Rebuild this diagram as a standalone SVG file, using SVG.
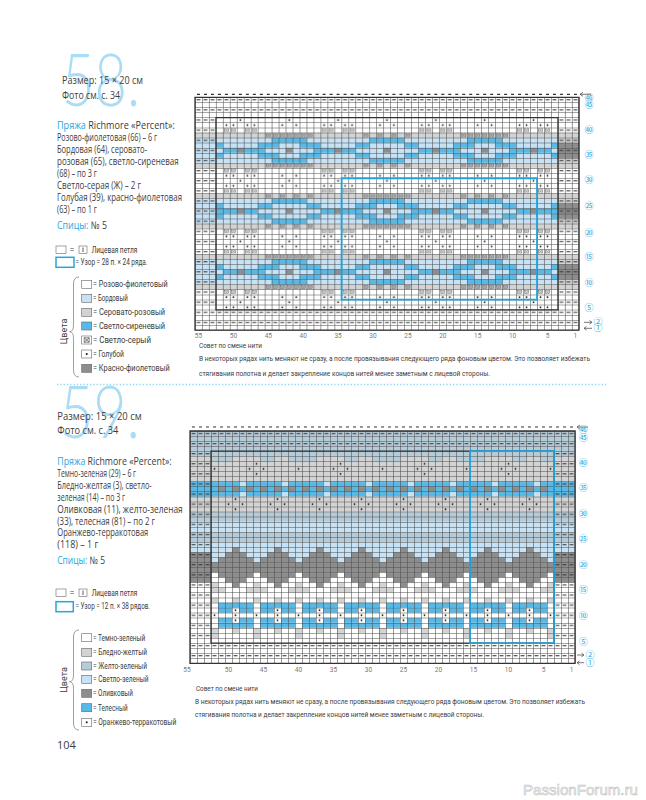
<svg xmlns="http://www.w3.org/2000/svg" width="646" height="800" viewBox="0 0 646 800">
<style>
.tx{font-family:"Open Sans","Liberation Sans",sans-serif;fill:#3c3c3c}
.bl{fill:#27a6de}
.big{font-family:"Lato","Open Sans","Liberation Sans",sans-serif;font-weight:300;font-size:72px;fill:#aadcf5}
.lt{font-family:"Roboto","Liberation Sans",sans-serif;font-size:9px;fill:#3c3c3c}
.cn{font-family:"Roboto","Liberation Sans",sans-serif;font-size:6.5px;fill:#777;text-anchor:middle}
.rn{font-family:"Noto Sans CJK JP","DejaVu Sans",sans-serif;font-size:9px;fill:#29a8e0;text-anchor:middle}
.tip{font-family:"Roboto","Liberation Sans",sans-serif;font-size:7px;fill:#3c3c3c}
.box{stroke:#666;stroke-width:0.6}
.pb{fill:#c6e2f4}.mb{fill:#58b9e7}.cg{fill:#d3d3d3}.dg{fill:#8d8d8d}.bgc{fill:#b5cbd8}.wh{fill:#fff}
.gl{stroke:#4f4f4f;fill:none}
.bd{fill:none;stroke:#333;stroke-width:1.3}
.ar{fill:none;stroke:#555;stroke-width:0.8}
</style>
<defs>
<g id="xm"><rect x=".24" y=".2" width=".52" height=".6" fill="none" stroke="#444" stroke-width=".07"/><path d="M.24 .2L.76 .8M.76 .2L.24 .8" stroke="#444" stroke-width=".07"/></g>
<rect id="dt" x=".39" y=".33" width=".22" height=".34" fill="#222"/>
<pattern id="dsh" patternUnits="userSpaceOnUse" width="1" height="2"><rect x=".22" y=".4" width=".56" height=".2" fill="#333"/></pattern>
<g id="hA">
 <rect y="0" width="28" height="1" class="cg"/>
 <rect y="6" width="28" height="1" class="cg"/>
 <rect y="1" width="28" height="5" class="pb"/>
 <g class="mb">
  <rect x="11" y="1" width="5" height="1"/><rect x="25" y="1" width="3" height="1"/><rect x="0" y="1" width="2" height="1"/>
  <rect x="9" y="2" width="3" height="1"/><rect x="15" y="2" width="3" height="1"/><rect x="23" y="2" width="2" height="1"/><rect x="2" y="2" width="2" height="1"/>
  <rect x="4" y="3" width="2" height="1"/><rect x="7" y="3" width="3" height="1"/><rect x="17" y="3" width="3" height="1"/><rect x="21" y="3" width="2" height="1"/>
  <rect x="9" y="4" width="3" height="1"/><rect x="15" y="4" width="3" height="1"/><rect x="23" y="4" width="2" height="1"/><rect x="2" y="4" width="2" height="1"/>
  <rect x="11" y="5" width="5" height="1"/><rect x="25" y="5" width="3" height="1"/><rect x="0" y="5" width="2" height="1"/>
 </g>
 <g class="dg"><rect x="6" y="3" width="1" height="1"/><rect x="13" y="3" width="1" height="1"/><rect x="20" y="3" width="1" height="1"/><rect x="27" y="3" width="1" height="1"/></g>
 <use href="#xm" x="0" y="0"/><use href="#xm" x="2" y="0"/><use href="#xm" x="10" y="0"/><use href="#xm" x="11" y="0"/><use href="#xm" x="12" y="0"/><use href="#xm" x="13" y="0"/><use href="#xm" x="14" y="0"/><use href="#xm" x="15" y="0"/><use href="#xm" x="16" y="0"/><use href="#xm" x="24" y="0"/><use href="#xm" x="26" y="0"/>
 <use href="#xm" x="0" y="6"/><use href="#xm" x="2" y="6"/><use href="#xm" x="10" y="6"/><use href="#xm" x="11" y="6"/><use href="#xm" x="12" y="6"/><use href="#xm" x="13" y="6"/><use href="#xm" x="14" y="6"/><use href="#xm" x="15" y="6"/><use href="#xm" x="16" y="6"/><use href="#xm" x="24" y="6"/><use href="#xm" x="26" y="6"/>
 <use href="#xm" x="4" y="7"/><use href="#xm" x="5" y="7"/><use href="#xm" x="7" y="7"/><use href="#xm" x="8" y="7"/><use href="#xm" x="18" y="7"/><use href="#xm" x="19" y="7"/><use href="#xm" x="21" y="7"/><use href="#xm" x="22" y="7"/>
 <use href="#xm" x="4" y="11"/><use href="#xm" x="5" y="11"/><use href="#xm" x="7" y="11"/><use href="#xm" x="8" y="11"/><use href="#xm" x="18" y="11"/><use href="#xm" x="19" y="11"/><use href="#xm" x="21" y="11"/><use href="#xm" x="22" y="11"/>
 <use href="#dt" x="4" y="8"/><use href="#dt" x="5" y="8"/><use href="#dt" x="7" y="8"/><use href="#dt" x="8" y="8"/><use href="#dt" x="18" y="8"/><use href="#dt" x="19" y="8"/><use href="#dt" x="21" y="8"/><use href="#dt" x="22" y="8"/><use href="#dt" x="12" y="8"/><use href="#dt" x="14" y="8"/><use href="#dt" x="26" y="8"/><use href="#dt" x="0" y="8"/>
 <use href="#dt" x="4" y="10"/><use href="#dt" x="5" y="10"/><use href="#dt" x="7" y="10"/><use href="#dt" x="8" y="10"/><use href="#dt" x="18" y="10"/><use href="#dt" x="19" y="10"/><use href="#dt" x="21" y="10"/><use href="#dt" x="22" y="10"/><use href="#dt" x="12" y="10"/><use href="#dt" x="14" y="10"/><use href="#dt" x="26" y="10"/><use href="#dt" x="0" y="10"/>
 <use href="#dt" x="6" y="9"/><use href="#dt" x="13" y="9"/><use href="#dt" x="20" y="9"/><use href="#dt" x="27" y="9"/>
</g>
<pattern id="tT" patternUnits="userSpaceOnUse" x="0" y="7" width="28" height="24">
 <use href="#hA"/><use href="#hA" x="14" y="12"/><use href="#hA" x="-14" y="12"/>
</pattern>
<g id="zz">
 <g class="dg"><rect x="2" y="19" width="1" height="1"/><rect x="1" y="20" width="3" height="1"/><rect x="0" y="21" width="5" height="1"/><rect x="0" y="22" width="6" height="2"/><rect x="0" y="24" width="5" height="1"/><rect x="1" y="25" width="3" height="1"/><rect x="2" y="26" width="1" height="1"/></g>
 <g class="cg"><rect x="5" y="26" width="1" height="1"/><rect x="4" y="27" width="2" height="1"/><rect x="0" y="27" width="1" height="1"/><rect x="2" y="29" width="1" height="1"/><rect x="5" y="29" width="1" height="1"/><rect x="2" y="35" width="1" height="1"/><rect x="5" y="35" width="1" height="1"/><rect x="5" y="36" width="1" height="1"/></g>
 <g class="mb"><rect x="0" y="30" width="5" height="1"/><rect x="0" y="31" width="2" height="1"/><rect x="3" y="31" width="2" height="1"/><rect x="0" y="33" width="2" height="1"/><rect x="3" y="33" width="2" height="1"/><rect x="0" y="34" width="5" height="1"/></g>
 <use href="#dt" x="2" y="31"/><use href="#dt" x="2" y="32"/><use href="#dt" x="5" y="32"/><use href="#dt" x="2" y="33"/>
</g>
<pattern id="tB" patternUnits="userSpaceOnUse" x="4" y="4" width="12" height="38">
 <rect y="0" width="12" height="1" class="bgc"/>
 <rect y="1" width="12" height="5" class="cg"/>
 <g class="bgc"><rect x="0" y="1" width="2" height="1"/><rect x="6" y="1" width="2" height="1"/><rect x="10" y="1" width="2" height="1"/></g>
 <rect y="6" width="12" height="3" class="mb"/>
 <g class="dg"><rect x="0" y="7" width="1" height="1"/><rect x="2" y="7" width="1" height="1"/><rect x="4" y="7" width="1" height="1"/><rect x="6" y="7" width="1" height="1"/><rect x="8" y="7" width="1" height="1"/><rect x="10" y="7" width="1" height="1"/></g>
 <g class="pb"><rect x="3" y="6" width="1" height="1"/><rect x="9" y="6" width="1" height="1"/><rect x="3" y="8" width="1" height="1"/><rect x="9" y="8" width="1" height="1"/></g>
 <rect y="9" width="12" height="3" class="cg"/>
 <rect y="12" width="12" height="2" class="bgc"/>
 <rect y="14" width="12" height="2" class="pb"/>
 <rect y="16" width="12" height="2" class="bgc"/>
 <rect y="18" width="12" height="4" class="pb"/>
 <use href="#zz"/><use href="#zz" x="6"/>
 <use href="#dt" x="5" y="2"/><use href="#dt" x="4" y="3"/><use href="#dt" x="6" y="3"/><use href="#dt" x="5" y="4"/><use href="#dt" x="11" y="3"/>
 <use href="#dt" x="2" y="9"/><use href="#dt" x="8" y="9"/><use href="#dt" x="1" y="10"/><use href="#dt" x="3" y="10"/><use href="#dt" x="7" y="10"/><use href="#dt" x="9" y="10"/><use href="#dt" x="2" y="11"/><use href="#dt" x="8" y="11"/>
</pattern>
</defs>
<rect width="646" height="800" fill="#fff"/>

<g id="header58">
 <text class="big" x="62" y="106" textLength="78" lengthAdjust="spacingAndGlyphs">58.</text>
 <text class="tx" x="62" y="83.5" font-size="11.5" textLength="81" lengthAdjust="spacingAndGlyphs">Размер: 15 × 20 см</text>
 <text class="tx" x="62" y="98.5" font-size="11.5" textLength="58" lengthAdjust="spacingAndGlyphs">Фото см. с. 34</text>
</g>
<g id="yarn58" class="tx" font-size="10.5">
 <text x="57" y="128.7" textLength="118" lengthAdjust="spacingAndGlyphs"><tspan class="bl">Пряжа</tspan> Richmore «Percent»:</text>
 <text x="57" y="140.8" textLength="100" lengthAdjust="spacingAndGlyphs">Розово-фиолетовая (66) – 6 г</text>
 <text x="57" y="152.9" textLength="90" lengthAdjust="spacingAndGlyphs">Бордовая (64), серовато-</text>
 <text x="57" y="165" textLength="121.6" lengthAdjust="spacingAndGlyphs">розовая (65), светло-сиреневая</text>
 <text x="57" y="177.1" textLength="40" lengthAdjust="spacingAndGlyphs">(68) – по 3 г</text>
 <text x="57" y="189.2" textLength="84" lengthAdjust="spacingAndGlyphs">Светло-серая (Ж) – 2 г</text>
 <text x="57" y="201.3" textLength="125" lengthAdjust="spacingAndGlyphs">Голубая (39), красно-фиолетовая</text>
 <text x="57" y="213.4" textLength="40" lengthAdjust="spacingAndGlyphs">(63) – по 1 г</text>
 <text x="57" y="228.5" textLength="50" lengthAdjust="spacingAndGlyphs"><tspan class="bl">Спицы:</tspan> № 5</text>
</g>
<g id="legend58">
 <rect x="56" y="246" width="10" height="7.5" fill="#fff" class="box"/>
 <text class="lt" x="69.5" y="252.5">=</text>
 <rect x="79" y="246" width="8" height="7.5" fill="#fff" class="box"/>
 <path d="M83 247.5V252" stroke="#333" stroke-width="0.8"/>
 <text class="lt" x="91.7" y="252.5" font-size="8.5" textLength="45.6" lengthAdjust="spacingAndGlyphs">Лицевая петля</text>
 <rect x="56" y="257.3" width="18" height="10" fill="#fff" stroke="#27a6de" stroke-width="1.5"/>
 <text class="lt" x="75.5" y="264.8" font-size="8.5" textLength="72" lengthAdjust="spacingAndGlyphs">= Узор = 28 п. × 24 ряда.</text>
 <path d="M79 277Q73.5 277 73.5 284V325Q73.5 331.7 69.5 331.7Q73.5 331.7 73.5 338.5V370Q73.5 377 79 377" fill="none" stroke="#777" stroke-width="0.7"/>
 <text class="lt" x="67" y="331.5" text-anchor="middle" transform="rotate(-90 67 331.5)">Цвета</text>
 <rect x="81.7" y="280.3" width="10" height="8" fill="#fff" class="box"/>
 <rect x="81.7" y="294.3" width="10" height="8" class="pb box"/>
 <rect x="81.7" y="308.3" width="10" height="8" class="cg box"/>
 <rect x="81.7" y="322" width="10" height="8" class="mb box"/>
 <rect x="81.7" y="336" width="10" height="8" fill="#fff" class="box"/>
 <path d="M84.2 337.8h5v4.4h-5zM84.2 337.8l5 4.4M89.2 337.8l-5 4.4" fill="none" stroke="#333" stroke-width="0.6"/>
 <rect x="81.7" y="350" width="10" height="8" fill="#fff" class="box"/>
 <rect x="85.8" y="353.1" width="1.8" height="1.8" fill="#222"/>
 <rect x="81.7" y="364.3" width="10" height="8" class="dg box"/>
 <text class="lt" x="93" y="287.3" textLength="74.7" lengthAdjust="spacingAndGlyphs">= Розово-фиолетовый</text>
 <text class="lt" x="93" y="301.3" textLength="34.7" lengthAdjust="spacingAndGlyphs">= Бордовый</text>
 <text class="lt" x="93" y="315.3" textLength="72" lengthAdjust="spacingAndGlyphs">= Серовато-розовый</text>
 <text class="lt" x="93" y="329" textLength="72" lengthAdjust="spacingAndGlyphs">= Светло-сиреневый</text>
 <text class="lt" x="93" y="343" textLength="58" lengthAdjust="spacingAndGlyphs">= Светло-серый</text>
 <text class="lt" x="93" y="357" textLength="31" lengthAdjust="spacingAndGlyphs">= Голубой</text>
 <text class="lt" x="93" y="371.3" textLength="76.7" lengthAdjust="spacingAndGlyphs">= Красно-фиолетовый</text>
</g>

<g id="chart58" transform="translate(195,97.3) scale(6.98,5.06)">
 <rect width="55" height="46" fill="#fff"/>
 <g class="cg"><rect y="7" width="3" height="1"/><rect y="13" width="3" height="1"/><rect y="19" width="3" height="1"/><rect y="25" width="3" height="1"/><rect y="31" width="3" height="1"/><rect y="37" width="3" height="1"/>
 <rect x="52" y="7" width="3" height="2"/><rect x="52" y="12" width="3" height="2"/><rect x="52" y="19" width="3" height="2"/><rect x="52" y="24" width="3" height="2"/><rect x="52" y="31" width="3" height="2"/><rect x="52" y="36" width="3" height="2"/></g>
 <g class="pb"><rect y="8" width="3" height="5"/><rect y="20" width="3" height="5"/><rect y="32" width="3" height="5"/></g>
 <g class="dg"><rect x="52" y="9" width="3" height="3"/><rect x="52" y="21" width="3" height="3"/><rect x="52" y="33" width="3" height="3"/></g>
 <rect x="3" y="4" width="49" height="38" fill="url(#tT)"/>
 <rect width="55" height="4" fill="url(#dsh)"/>
 <rect y="42" width="55" height="4" fill="url(#dsh)"/>
 <rect y="4" width="3" height="38" fill="url(#dsh)"/>
 <rect x="52" y="4" width="3" height="38" fill="url(#dsh)"/>
 <line class="gl" x1="0" y1="23" x2="55.2" y2="23" stroke-width="46" stroke-dasharray="0.08 0.92"/>
 <line class="gl" x1="27.5" y1="0" x2="27.5" y2="46.2" stroke-width="55" stroke-dasharray="0.1 0.9"/>
 <rect x="3" y="4" width="49" height="38" class="bd" vector-effect="non-scaling-stroke"/>
 <rect width="55" height="46" class="bd" vector-effect="non-scaling-stroke"/>
 <rect x="21" y="16" width="28" height="24" fill="none" stroke="#1fa3dc" stroke-width="1.8" vector-effect="non-scaling-stroke"/>
</g>
<g id="axes58">
 <line x1="197" y1="94.3" x2="579" y2="94.3" stroke="#333" stroke-width="1.2" stroke-dasharray="3 3.98"/>
 <path class="ar" d="M591 94.3H580M583 92.3L580 94.3L583 96.3"/>
 <g class="cn"><text x="198.5" y="338">55</text><text x="233.4" y="338">50</text><text x="268.3" y="338">45</text><text x="303.2" y="338">40</text><text x="338.1" y="338">35</text><text x="373" y="338">30</text><text x="407.9" y="338">25</text><text x="442.8" y="338">20</text><text x="477.7" y="338">15</text><text x="512.6" y="338">10</text><text x="547.5" y="338">5</text><text x="575.4" y="338">1</text></g>
 <g class="rn"><text x="589" y="100.5">㊻</text><text x="589" y="108">㊺</text><text x="589" y="133">㊵</text><text x="589" y="158">㉟</text><text x="589" y="183">㉚</text><text x="589" y="208.7">㉕</text><text x="589" y="235.7">⑳</text><text x="589" y="259.7">⑮</text><text x="589" y="285.7">⑩</text><text x="589" y="311.3">⑤</text><text x="598" y="324.7">②</text><text x="598" y="331.3">①</text></g>
 <path class="ar" d="M584 322.3H592M589.5 320.5L592 322.3L589.5 324.1M592 328.3H584M586.5 326.5L584 328.3L586.5 330.1"/>
</g>
<g id="tip58">
 <text class="tip bl" x="199" y="348" textLength="63" lengthAdjust="spacingAndGlyphs">Совет по смене нити</text>
 <text class="tip" x="199" y="360.5" textLength="391" lengthAdjust="spacingAndGlyphs">В некоторых рядах нить меняют не сразу, а после провязывания следующего ряда фоновым цветом. Это позволяет избежать</text>
 <text class="tip" x="199" y="376" textLength="291" lengthAdjust="spacingAndGlyphs">стягивания полотна и делает закрепление концов нитей менее заметным с лицевой стороны.</text>
</g>

<line x1="57" y1="384.5" x2="606" y2="384.5" stroke="#8fd3f2" stroke-width="1.3" stroke-dasharray="1.3 2"/>

<g id="header59">
 <text class="big" x="60" y="438.3" textLength="80" lengthAdjust="spacingAndGlyphs">59.</text>
 <text class="tx" x="57.3" y="420.2" font-size="11.5" textLength="84.4" lengthAdjust="spacingAndGlyphs">Размер: 15 × 20 см</text>
 <text class="tx" x="57.3" y="433.5" font-size="11.5" textLength="61" lengthAdjust="spacingAndGlyphs">Фото см. с. 34</text>
</g>
<g id="yarn59" class="tx" font-size="10.5">
 <text x="57.3" y="465" textLength="114.4" lengthAdjust="spacingAndGlyphs"><tspan class="bl">Пряжа</tspan> Richmore «Percent»:</text>
 <text x="57.3" y="476.9" textLength="78.7" lengthAdjust="spacingAndGlyphs">Темно-зеленая (29) – 6 г</text>
 <text x="57.3" y="488.8" textLength="94.4" lengthAdjust="spacingAndGlyphs">Бледно-желтая (3), светло-</text>
 <text x="57.3" y="500.7" textLength="67.7" lengthAdjust="spacingAndGlyphs">зеленая (14) – по 3 г</text>
 <text x="57.3" y="512.6" textLength="125.4" lengthAdjust="spacingAndGlyphs">Оливковая (11), желто-зеленая</text>
 <text x="57.3" y="524.5" textLength="97.7" lengthAdjust="spacingAndGlyphs">(33), телесная (81) – по 2 г</text>
 <text x="57.3" y="536.4" textLength="91" lengthAdjust="spacingAndGlyphs">Оранжево-терракотовая</text>
 <text x="57.3" y="548.3" textLength="41" lengthAdjust="spacingAndGlyphs">(118) – 1 г</text>
 <text x="57.3" y="563.5" textLength="47.7" lengthAdjust="spacingAndGlyphs"><tspan class="bl">Спицы:</tspan> № 5</text>
</g>
<g id="legend59">
 <rect x="56" y="589" width="10" height="7.5" fill="#fff" class="box"/>
 <text class="lt" x="69.5" y="595.5">=</text>
 <rect x="79" y="589" width="8" height="7.5" fill="#fff" class="box"/>
 <path d="M83 590.5V595" stroke="#333" stroke-width="0.8"/>
 <text class="lt" x="91.7" y="595.5" font-size="8.5" textLength="45.6" lengthAdjust="spacingAndGlyphs">Лицевая петля</text>
 <rect x="56" y="601.7" width="17.3" height="10" fill="#fff" stroke="#27a6de" stroke-width="1.5"/>
 <text class="lt" x="75.5" y="609" font-size="8.5" textLength="74.5" lengthAdjust="spacingAndGlyphs">= Узор = 12 п. × 38 рядов.</text>
 <path d="M79 630Q73.5 630 73.5 637V675Q73.5 681.7 69.5 681.7Q73.5 681.7 73.5 688.5V723Q73.5 730 79 730" fill="none" stroke="#777" stroke-width="0.7"/>
 <text class="lt" x="67" y="680" text-anchor="middle" transform="rotate(-90 67 680)">Цвета</text>
 <rect x="81.7" y="633.7" width="10" height="8" fill="#fff" class="box"/>
 <rect x="81.7" y="648.3" width="10" height="8" class="cg box"/>
 <rect x="81.7" y="662" width="10" height="8" class="bgc box"/>
 <rect x="81.7" y="675.3" width="10" height="8" class="pb box"/>
 <rect x="81.7" y="689.3" width="10" height="8" class="dg box"/>
 <rect x="81.7" y="703.7" width="10" height="8" class="mb box"/>
 <rect x="81.7" y="718.3" width="10" height="8" fill="#fff" class="box"/>
 <rect x="85.8" y="721.4" width="1.8" height="1.8" fill="#222"/>
 <text class="lt" x="93" y="640.7" textLength="52.3" lengthAdjust="spacingAndGlyphs">= Темно-зеленый</text>
 <text class="lt" x="93" y="655.3" textLength="54" lengthAdjust="spacingAndGlyphs">= Бледно-желтый</text>
 <text class="lt" x="93" y="669" textLength="54" lengthAdjust="spacingAndGlyphs">= Желто-зеленый</text>
 <text class="lt" x="93" y="682.3" textLength="55.6" lengthAdjust="spacingAndGlyphs">= Светло-зеленый</text>
 <text class="lt" x="93" y="696.3" textLength="40" lengthAdjust="spacingAndGlyphs">= Оливковый</text>
 <text class="lt" x="93" y="710.7" textLength="34.6" lengthAdjust="spacingAndGlyphs">= Телесный</text>
 <text class="lt" x="93" y="725.3" textLength="83.3" lengthAdjust="spacingAndGlyphs">= Оранжево-терракотовый</text>
</g>

<g id="chart59" transform="translate(190,431) scale(7,5.05)">
 <rect width="55" height="46" fill="#fff"/>
 <rect width="55" height="5" class="bgc"/>
 <g class="cg"><rect y="5" width="3" height="5"/><rect x="52" y="5" width="3" height="5"/><rect y="13" width="3" height="3"/><rect x="52" y="13" width="3" height="3"/></g>
 <g class="mb"><rect y="10" width="3" height="3"/><rect x="52" y="10" width="3" height="3"/></g>
 <g class="bgc"><rect y="16" width="3" height="2"/><rect x="52" y="16" width="3" height="2"/><rect y="20" width="3" height="2"/><rect x="52" y="20" width="3" height="2"/></g>
 <g class="pb"><rect y="18" width="3" height="2"/><rect x="52" y="18" width="3" height="2"/><rect y="22" width="3" height="2"/><rect x="52" y="22" width="3" height="2"/></g>
 <g class="dg"><rect y="24" width="3" height="6"/><rect x="52" y="24" width="3" height="6"/></g>
 <rect x="3" y="4" width="49" height="38" fill="url(#tB)"/>
 <rect width="55" height="4" fill="url(#dsh)"/>
 <rect y="42" width="55" height="4" fill="url(#dsh)"/>
 <rect y="4" width="3" height="38" fill="url(#dsh)"/>
 <rect x="52" y="4" width="3" height="38" fill="url(#dsh)"/>
 <line class="gl" x1="0" y1="23" x2="55.2" y2="23" stroke-width="46" stroke-dasharray="0.08 0.92"/>
 <line class="gl" x1="27.5" y1="0" x2="27.5" y2="46.2" stroke-width="55" stroke-dasharray="0.1 0.9"/>
 <rect x="3" y="4" width="49" height="38" class="bd" vector-effect="non-scaling-stroke"/>
 <rect width="55" height="46" class="bd" vector-effect="non-scaling-stroke"/>
 <rect x="40" y="4" width="12" height="38" fill="none" stroke="#1fa3dc" stroke-width="1.8" vector-effect="non-scaling-stroke"/>
</g>
<g id="axes59">
 <line x1="192" y1="427" x2="575" y2="427" stroke="#333" stroke-width="1.2" stroke-dasharray="3 4"/>
 <path class="ar" d="M588 427H577M580 425L577 427L580 429"/>
 <g class="cn"><text x="187" y="671.5">55</text><text x="228.5" y="671.5">50</text><text x="263.5" y="671.5">45</text><text x="298.5" y="671.5">40</text><text x="333.5" y="671.5">35</text><text x="368.5" y="671.5">30</text><text x="403.5" y="671.5">25</text><text x="438.5" y="671.5">20</text><text x="473.5" y="671.5">15</text><text x="508.5" y="671.5">10</text><text x="543.5" y="671.5">5</text><text x="571.5" y="671.5">1</text></g>
 <g class="rn"><text x="583.3" y="433">㊻</text><text x="583.3" y="441.3">㊺</text><text x="583.3" y="466.3">㊵</text><text x="583.3" y="491.3">㉟</text><text x="583.3" y="517.3">㉚</text><text x="583.3" y="542.3">㉕</text><text x="583.3" y="568.3">⑳</text><text x="583.3" y="593.3">⑮</text><text x="583.3" y="619">⑩</text><text x="583.3" y="644.7">⑤</text><text x="590" y="658">②</text><text x="590" y="666.3">①</text></g>
 <path class="ar" d="M577 655H584M581.5 653.2L584 655L581.5 656.8M584 662.7H577M579.5 660.9L577 662.7L579.5 664.5"/>
</g>
<g id="tip59">
 <text class="tip bl" x="196" y="690.5" textLength="62" lengthAdjust="spacingAndGlyphs">Совет по смене нити</text>
 <text class="tip" x="195" y="704" textLength="390" lengthAdjust="spacingAndGlyphs">В некоторых рядах нить меняют не сразу, а после провязывания следующего ряда фоновым цветом. Это позволяет избежать</text>
 <text class="tip" x="195" y="716.5" textLength="289" lengthAdjust="spacingAndGlyphs">стягивания полотна и делает закрепление концов нитей менее заметным с лицевой стороны.</text>
</g>
<text class="tx" x="57" y="749" font-size="11">104</text>
<text x="523" y="795" font-family="Liberation Sans,sans-serif" font-size="15" fill="#f6f6f6" stroke="#c4c4c4" stroke-width="0.6" textLength="115" lengthAdjust="spacingAndGlyphs">PassionForum.ru</text>
</svg>
